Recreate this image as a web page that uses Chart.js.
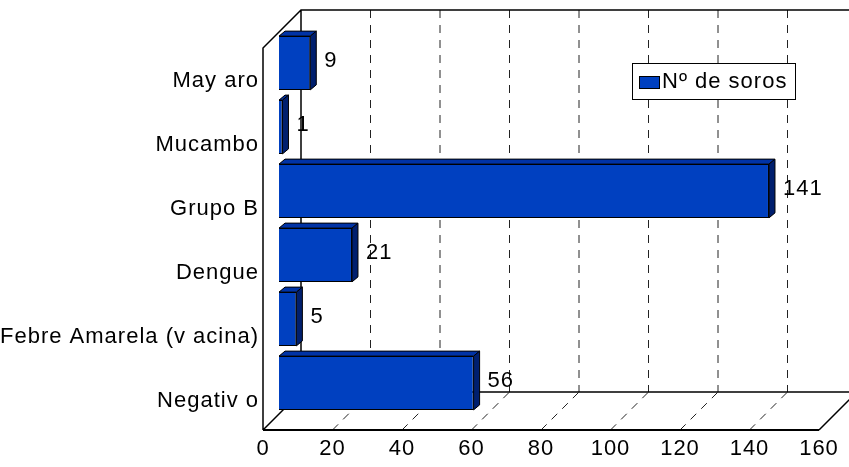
<html>
<head>
  <meta charset="utf-8"/>
  <title>Nº de soros</title>
  <script src="https://cdn.jsdelivr.net/npm/chart.js"></script>
  <style>
    body { margin: 0; background: #fff; }
    #wrap { width: 849px; height: 467px; }
  </style>
</head>
<body>
  <div id="wrap"><canvas id="chart" width="849" height="467"></canvas></div>
  <script>
    // data
    const categories = ['May aro', 'Mucambo', 'Grupo B', 'Dengue', 'Febre Amarela (v acina)', 'Negativ o'];
    const soros = [9, 1, 141, 21, 5, 56];
    const seriesName = 'Nº de soros';
    const xTicks = [0, 20, 40, 60, 80, 100, 120, 140, 160];

    Chart.defaults.font.family = '"Liberation Sans", Arial, sans-serif';
    Chart.defaults.font.size = 22;
    Chart.defaults.color = '#000';

    // 3d look: floor is pushed 16px left / 15px down of the bars, depth goes 38px up-right
    const FLOOR_DX = -16, FLOOR_DY = 15, DEPTH = 38, TOP_Y = 10;
    const BAR_DX = 6, BAR_DY = -5;

    const box3d = {
      id: 'box3d',
      beforeDraw(chart) {
        chart.ctx.letterSpacing = '1px';
      },
      beforeDatasetsDraw(chart) {
        const ctx = chart.ctx, xs = chart.scales.x, area = chart.chartArea;
        const fy = area.bottom + FLOOR_DY;
        const fx = v => xs.getPixelForValue(v) + FLOOR_DX;
        const x0 = fx(xTicks[0]), x1 = fx(xTicks[xTicks.length - 1]);
        ctx.save();
        // dashed grid on back wall and floor
        ctx.strokeStyle = '#222';
        ctx.lineWidth = 1;
        ctx.setLineDash([8, 7]);
        xTicks.slice(1).forEach(v => {
          const x = fx(v);
          ctx.beginPath();
          ctx.moveTo(x + DEPTH, TOP_Y);
          ctx.lineTo(x + DEPTH, fy - DEPTH);
          ctx.stroke();
          ctx.beginPath();
          ctx.moveTo(x, fy);
          ctx.lineTo(x + DEPTH, fy - DEPTH);
          ctx.stroke();
        });
        ctx.setLineDash([]);
        // walls and floor outline
        ctx.strokeStyle = '#000';
        ctx.lineWidth = 1.5;
        ctx.beginPath();
        ctx.moveTo(x0, fy);
        ctx.lineTo(x0, TOP_Y + DEPTH);
        ctx.lineTo(x0 + DEPTH, TOP_Y);
        ctx.lineTo(x1 + DEPTH + 10, TOP_Y);
        ctx.moveTo(x0 + DEPTH, TOP_Y);
        ctx.lineTo(x0 + DEPTH, fy - DEPTH);
        ctx.lineTo(x1 + DEPTH + 10, fy - DEPTH);
        ctx.moveTo(x0, fy);
        ctx.lineTo(x0 + DEPTH, fy - DEPTH);
        ctx.moveTo(x1, fy);
        ctx.lineTo(x1 + DEPTH, fy - DEPTH);
        ctx.stroke();
        ctx.lineWidth = 2;
        ctx.beginPath();
        ctx.moveTo(x0, fy);
        ctx.lineTo(x1, fy);
        ctx.stroke();
        ctx.restore();
      },
      afterDatasetsDraw(chart) {
        const ctx = chart.ctx;
        const ds = chart.data.datasets[0];
        const meta = chart.getDatasetMeta(0);
        ctx.save();
        ctx.lineWidth = 1;
        ctx.strokeStyle = '#000';
        meta.data.forEach((bar, i) => {
          const left = bar.base, right = bar.x;
          const top = bar.y - bar.height / 2, bottom = bar.y + bar.height / 2;
          // top face
          ctx.fillStyle = '#0033A6';
          ctx.beginPath();
          ctx.moveTo(left, top);
          ctx.lineTo(left + BAR_DX, top + BAR_DY);
          ctx.lineTo(right + BAR_DX, top + BAR_DY);
          ctx.lineTo(right, top);
          ctx.closePath();
          ctx.fill();
          ctx.stroke();
          // side face
          ctx.fillStyle = '#001F6E';
          ctx.beginPath();
          ctx.moveTo(right, top);
          ctx.lineTo(right + BAR_DX, top + BAR_DY);
          ctx.lineTo(right + BAR_DX, bottom + BAR_DY);
          ctx.lineTo(right, bottom);
          ctx.closePath();
          ctx.fill();
          ctx.stroke();
          // value label
          ctx.letterSpacing = '1px';
          ctx.fillStyle = '#000';
          ctx.font = '22px "Liberation Sans", Arial, sans-serif';
          ctx.textAlign = 'left';
          ctx.textBaseline = 'middle';
          ctx.fillText(String(ds.data[i]), right + 14, bar.y - 2);
        });
        // legend
        const lx = 632, ly = 63, lw = 163, lh = 36;
        ctx.fillStyle = '#fff';
        ctx.fillRect(lx, ly, lw, lh);
        ctx.strokeRect(lx + 0.5, ly + 0.5, lw, lh);
        ctx.fillStyle = ds.backgroundColor;
        ctx.fillRect(lx + 7, ly + 13, 20, 12);
        ctx.strokeRect(lx + 7.5, ly + 13.5, 20, 12);
        ctx.fillStyle = '#000';
        ctx.fillText(ds.label, lx + 30, ly + lh / 2 + 1);
        ctx.restore();
      }
    };

    new Chart(document.getElementById('chart').getContext('2d'), {
      type: 'bar',
      data: {
        labels: categories,
        datasets: [{
          label: seriesName,
          data: soros,
          backgroundColor: '#0040C0',
          borderColor: '#000',
          borderWidth: 1,
          barPercentage: 0.84,
          categoryPercentage: 1.0
        }]
      },
      options: {
        indexAxis: 'y',
        responsive: false,
        animation: false,
        layout: { padding: { left: 0, right: 14, top: 31, bottom: 0 } },
        plugins: { legend: { display: false }, tooltip: { enabled: false } },
        scales: {
          x: {
            min: 0,
            max: 160,
            afterFit: s => { s.height = 52; s.paddingLeft = 0; s.paddingRight = 0; },
            afterBuildTicks: s => { s.ticks = xTicks.map(v => ({ value: v })); },
            grid: { display: false, drawTicks: false },
            border: { display: false },
            ticks: { padding: 21, labelOffset: -16, maxRotation: 0 }
          },
          y: {
            afterFit: s => { s.width = 279; s.paddingTop = 0; s.paddingBottom = 0; },
            grid: { display: false, drawTicks: false },
            border: { display: false },
            ticks: { padding: 20, labelOffset: 18 }
          }
        }
      },
      plugins: [box3d]
    });
  </script>
</body>
</html>
